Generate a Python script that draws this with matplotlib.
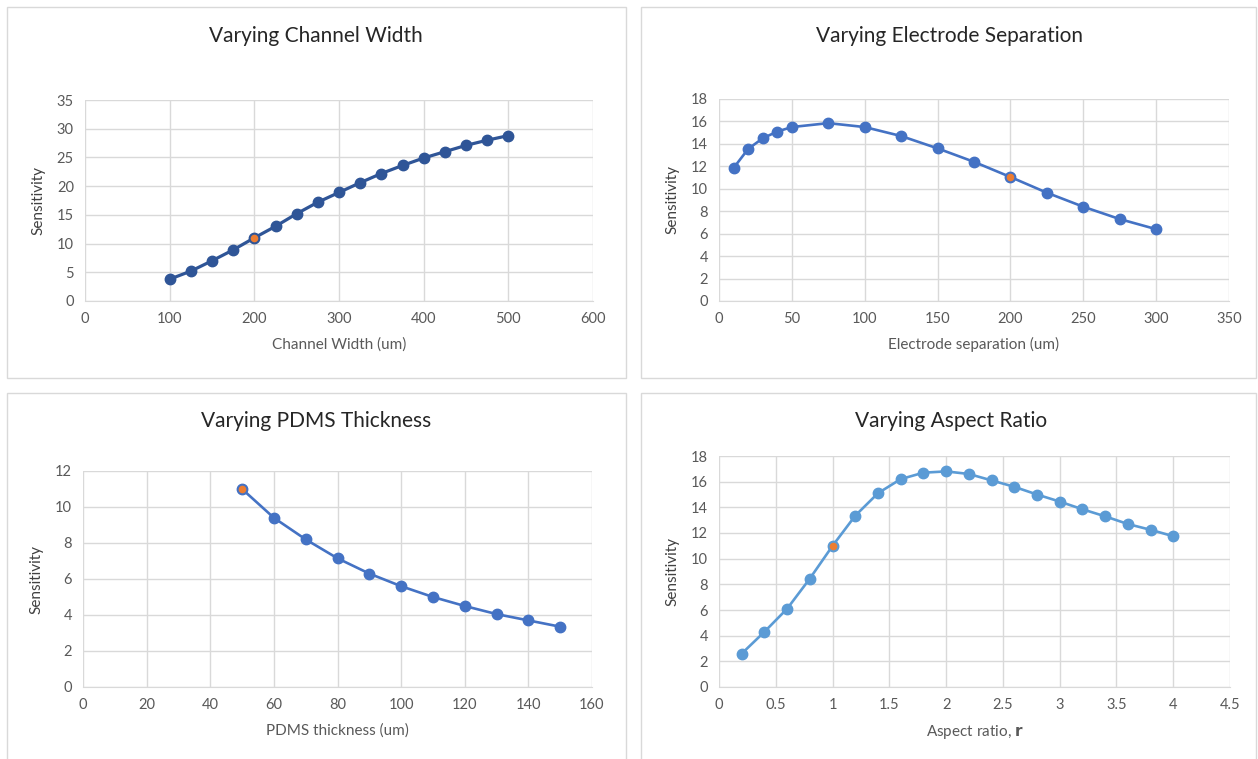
import matplotlib
matplotlib.use("Agg")
import matplotlib.pyplot as plt
from matplotlib.patches import Rectangle

plt.rcParams['font.family'] = ['Lato', 'DejaVu Sans']

# --- data ---
width_x = [100, 125, 150, 175, 200, 225, 250, 275, 300, 325, 350, 375, 400, 425, 450, 475, 500]
width_y = [3.8, 5.2, 7.0, 8.9, 11.0, 13.0, 15.2, 17.2, 18.9, 20.6, 22.2, 23.6, 24.9, 26.0, 27.1, 28.0, 28.8]

sep_x = [10, 20, 30, 40, 50, 75, 100, 125, 150, 175, 200, 225, 250, 275, 300]
sep_y = [11.85, 13.55, 14.5, 15.1, 15.5, 15.85, 15.5, 14.7, 13.6, 12.4, 11.05, 9.65, 8.4, 7.3, 6.4]

pdms_x = [50, 60, 70, 80, 90, 100, 110, 120, 130, 140, 150]
pdms_y = [11.0, 9.4, 8.2, 7.15, 6.3, 5.6, 5.0, 4.5, 4.05, 3.7, 3.35]

ar_x = [0.2, 0.4, 0.6, 0.8, 1.0, 1.2, 1.4, 1.6, 1.8, 2.0, 2.2, 2.4, 2.6, 2.8, 3.0, 3.2, 3.4, 3.6, 3.8, 4.0]
ar_y = [2.6, 4.3, 6.1, 8.45, 11.0, 13.35, 15.1, 16.2, 16.7, 16.8, 16.6, 16.1, 15.6, 15.0, 14.45, 13.85, 13.3, 12.7, 12.25, 11.75]

# baseline design point (orange marker)
base = {"width": (200, 11.0), "sep": (200, 11.05), "pdms": (50, 11.0), "ar": (1.0, 11.0)}

W, H = 1258, 759
fig = plt.figure(figsize=(W / 100, H / 100), dpi=100)
fig.patch.set_facecolor("white")

GRID = "#D9D9D9"
TXT = "#595959"
ORANGE = "#ED7D31"


def px_rect(x0, y0, x1, y1):
    return [x0 / W, 1 - y1 / H, (x1 - x0) / W, (y1 - y0) / H]


# panel frames
for (x0, y0, x1, y1) in [(7, 7, 626, 378), (641, 7, 1256, 378),
                         (7, 393, 626, 760), (641, 393, 1256, 760)]:
    fig.patches.append(Rectangle((x0 / W, 1 - y1 / H), (x1 - x0) / W, (y1 - y0) / H,
                                 transform=fig.transFigure, fill=False,
                                 edgecolor=GRID, linewidth=1.0))

panels = [
    dict(rect=(85, 100, 593, 301), x=width_x, y=width_y, b=base["width"],
         color="#2F5597", lw=2.3, xlim=(0, 600), xt=range(0, 601, 100),
         ylim=(0, 35), yt=range(0, 36, 5), title="Varying Channel Width",
         tpos=(316, 36), xlabel="Channel Width (um)"),
    dict(rect=(719, 99, 1229, 301), x=sep_x, y=sep_y, b=base["sep"],
         color="#4472C4", lw=1.9, xlim=(0, 350), xt=range(0, 351, 50),
         ylim=(0, 18), yt=range(0, 19, 2), title="Varying Electrode Separation",
         tpos=(950, 36), xlabel="Electrode separation (um)"),
    dict(rect=(83, 471, 592, 687), x=pdms_x, y=pdms_y, b=base["pdms"],
         color="#4472C4", lw=1.9, xlim=(0, 160), xt=range(0, 161, 20),
         ylim=(0, 12), yt=range(0, 13, 2), title="Varying PDMS Thickness",
         tpos=(316, 421), xlabel="PDMS thickness (um)"),
    dict(rect=(719, 456, 1230, 687), x=ar_x, y=ar_y, b=base["ar"],
         color="#5B9BD5", lw=1.9, xlim=(0, 4.5), xt=[0, 0.5, 1, 1.5, 2, 2.5, 3, 3.5, 4, 4.5],
         ylim=(0, 18), yt=range(0, 19, 2), title="Varying Aspect Ratio",
         tpos=(951, 421), xlabel=r"Aspect ratio, $\mathbf{r}$"),
]

for p in panels:
    ax = fig.add_axes(px_rect(*p["rect"]))
    ax.plot(p["x"], p["y"], color=p["color"], linewidth=p["lw"],
            marker="o", markersize=7.5, zorder=3)
    ax.plot([p["b"][0]], [p["b"][1]], linestyle="none", marker="o", markersize=6.5,
            markerfacecolor=ORANGE, markeredgecolor=p["color"], markeredgewidth=1.0, zorder=4)
    ax.set_xlim(*p["xlim"])
    ax.set_ylim(*p["ylim"])
    ax.set_xticks(list(p["xt"]))
    ax.set_yticks(list(p["yt"]))
    ax.set_xticklabels([f"{v:g}" for v in p["xt"]])
    ax.grid(True, color=GRID, linewidth=1.0)
    ax.set_axisbelow(True)
    for s in ["top", "right", "left"]:
        ax.spines[s].set_visible(False)
    ax.spines["bottom"].set_color(GRID)
    ax.tick_params(length=0, labelsize=10.5, colors=TXT, pad=8)
    ax.set_xlabel(p["xlabel"], fontsize=11, color=TXT, labelpad=8)
    ax.set_ylabel("Sensitivity", fontsize=11, color="#404040", labelpad=8)
    fig.text(p["tpos"][0] / W, 1 - p["tpos"][1] / H, p["title"], fontsize=15,
             color="#262626", ha="center", va="center")

plt.savefig("out.png", dpi=100, facecolor="white")
